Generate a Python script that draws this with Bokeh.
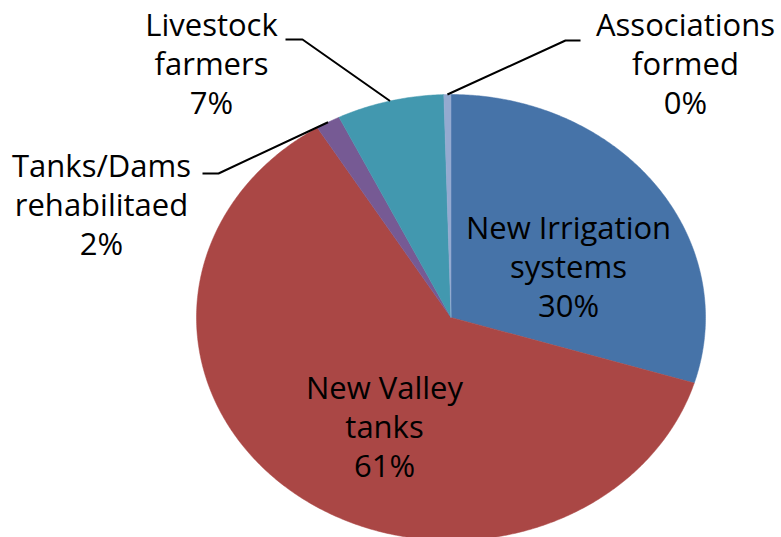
import numpy as np
from bokeh.plotting import figure
from bokeh.models import Range1d, ColumnDataSource
from bokeh.core.properties import value
from bokeh.embed import file_html
from bokeh.resources import INLINE

# ---- data ----
categories = ["New Irrigation\nsystems", "New Valley\ntanks", "Tanks/Dams\nrehabilitaed",
              "Livestock\nfarmers", "Associations\nformed"]
shares = [29.75, 61.45, 1.55, 6.8, 0.45]
colors = ["#4673A8", "#AA4745", "#765A94", "#4298AF", "#94AAD0"]

# ---- layout (figure pixel space, y downward) ----
W, H = 781, 537
CX, CY, RX, RY = 450.5, 317.0, 254.5, 223.0
FONT = "Open Sans"
FS = "31px"
LINE_GAP = 39
# label anchor (center x, first-line middle y), and leader elbow (None = inside)
label_pos = [(568, 226), (384, 386), (101, 164), (211, 23), (685, 23)]
elbows = [None, None, [(218, 173), (202, 173)], [(302, 39), (285, 39)], [(565, 40), (580, 40)]]

p = figure(width=W, height=H, x_range=Range1d(0, W), y_range=Range1d(H, 0),
           output_backend="svg", toolbar_location=None, min_border=0)
p.axis.visible = False
p.grid.visible = False
p.outline_line_color = None
p.background_fill_color = "white"

vals = np.array(shares, dtype=float)
frac = vals / vals.sum()
ends = np.cumsum(frac)
starts = ends - frac

xs, ys, mids = [], [], []
for s, e in zip(starts, ends):
    a0 = np.pi / 2 - 2 * np.pi * s
    a1 = np.pi / 2 - 2 * np.pi * e
    n = max(4, int(abs(a1 - a0) * 120))
    t = np.linspace(a0, a1, n)
    xs.append([CX] + list(CX + RX * np.cos(t)))
    ys.append([CY] + list(CY - RY * np.sin(t)))
    mids.append((a0 + a1) / 2)

p.patches(xs=xs, ys=ys, fill_color=colors, line_color=colors, line_width=0.5)

# leader lines
for i, el in enumerate(elbows):
    if el is None:
        continue
    m = mids[i]
    lx = [CX + RX * np.cos(m)] + [q[0] for q in el]
    ly = [CY - RY * np.sin(m)] + [q[1] for q in el]
    p.line(lx, ly, line_color="black", line_width=2)

# labels
tx, ty, tt = [], [], []
for i, cat in enumerate(categories):
    lines = cat.split("\n") + [f"{round(frac[i] * 100):.0f}%"]
    x0, y0 = label_pos[i]
    for k, ln in enumerate(lines):
        tx.append(x0)
        ty.append(y0 + k * LINE_GAP)
        tt.append(ln)
src = ColumnDataSource(dict(x=tx, y=ty, t=tt))
p.text(x="x", y="y", text="t", source=src, text_align="center", text_baseline="middle",
       text_font=value(FONT), text_font_size=FS, text_color="black")

open("out.html", "w").write(file_html(p, INLINE))
